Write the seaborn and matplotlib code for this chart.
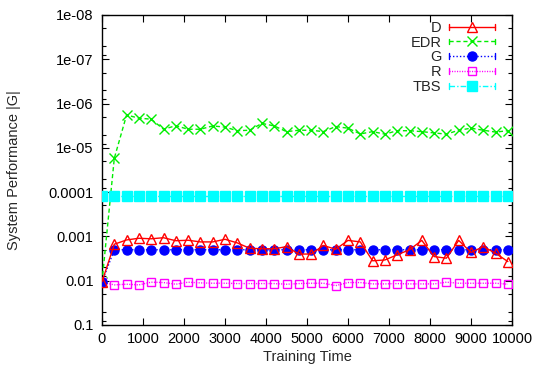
import matplotlib
matplotlib.use("Agg")
import matplotlib.pyplot as plt
import matplotlib.ticker as mticker
from matplotlib.lines import Line2D
from matplotlib.legend_handler import HandlerLine2D
import seaborn as sns
import pandas as pd

# ---------------- data ----------------
training_time = [0, 300, 600, 900, 1200, 1500, 1800, 2100, 2400, 2700,
                 3000, 3300, 3600, 3900, 4200, 4500, 4800, 5100, 5400, 5700,
                 6000, 6300, 6600, 6900, 7200, 7500, 7800, 8100, 8400, 8700,
                 9000, 9300, 9600, 9900]

d_values = [0.0106, 1.5e-3, 1.2e-3, 1.1e-3, 1.13e-3, 1.07e-3, 1.25e-3, 1.22e-3, 1.33e-3, 1.33e-3,
            1.16e-3, 1.4e-3, 1.85e-3, 1.9e-3, 1.9e-3, 1.7e-3, 2.5e-3, 2.5e-3, 1.6e-3, 1.95e-3,
            1.23e-3, 1.33e-3, 3.55e-3, 3.4e-3, 2.6e-3, 2.0e-3, 1.23e-3, 2.85e-3, 3.1e-3, 1.23e-3,
            2.3e-3, 1.7e-3, 2.4e-3, 3.7e-3]

edr_values = [0.0106, 1.72e-5, 1.81e-6, 2.14e-6, 2.25e-6, 3.8e-6, 3.16e-6, 3.8e-6, 3.8e-6, 3.2e-6,
              3.4e-6, 4.1e-6, 4.0e-6, 2.8e-6, 3.2e-6, 4.3e-6, 4.0e-6, 4.0e-6, 4.3e-6, 3.3e-6,
              3.6e-6, 4.85e-6, 4.3e-6, 4.9e-6, 4.1e-6, 4.1e-6, 4.3e-6, 4.6e-6, 4.9e-6, 4.0e-6,
              3.6e-6, 4.0e-6, 4.4e-6, 4.1e-6]

g_values = [0.0106, 2.0e-3, 2.0e-3, 2.0e-3, 2.0e-3, 2.0e-3, 2.0e-3, 2.0e-3, 2.0e-3, 2.0e-3,
            2.0e-3, 2.0e-3, 2.0e-3, 2.0e-3, 2.0e-3, 2.0e-3, 2.0e-3, 2.0e-3, 2.0e-3, 2.0e-3,
            2.0e-3, 2.0e-3, 2.0e-3, 2.0e-3, 2.0e-3, 2.0e-3, 2.0e-3, 2.0e-3, 2.0e-3, 2.0e-3,
            2.0e-3, 2.0e-3, 2.0e-3, 2.0e-3]

r_values = [0.0108, 0.0124, 0.0120, 0.0124, 0.0108, 0.0110, 0.0120, 0.0108, 0.0112, 0.0114,
            0.0114, 0.0116, 0.0116, 0.0116, 0.0116, 0.0120, 0.0116, 0.0114, 0.0114, 0.0129,
            0.0110, 0.0110, 0.0118, 0.0118, 0.0116, 0.0118, 0.0118, 0.0118, 0.0108, 0.0114,
            0.0114, 0.0114, 0.0114, 0.0120]

tbs_values = [1.25e-4] * 34

series_names = ["D", "EDR", "G", "R", "TBS"]
series_values = [d_values, edr_values, g_values, r_values, tbs_values]

x_ticks = [0, 1000, 2000, 3000, 4000, 5000, 6000, 7000, 8000, 9000, 10000]
y_ticks = [1e-8, 1e-7, 1e-6, 1e-5, 1e-4, 1e-3, 1e-2, 1e-1]
y_tick_labels = ["1e-08", "1e-07", "1e-06", "1e-05", "0.0001", "0.001", "0.01", "0.1"]

# ---------------- styles ----------------
styles = {
    "D":   dict(color="#ff0000", marker="^", fillstyle="none", markersize=6.5,
                linestyle="-", zorder=6),
    "EDR": dict(color="#00ee00", marker="x", markersize=6.5,
                linestyle=(0, (3, 2)), zorder=3),
    "G":   dict(color="#0000ff", marker="o", markersize=6.5,
                linestyle=(0, (1, 1.5)), zorder=5),
    "R":   dict(color="#ff00ff", marker="s", fillstyle="none", markersize=6,
                linestyle=(0, (0.8, 1)), zorder=4),
    "TBS": dict(color="#00ffff", marker="s", markersize=6.5,
                linestyle=(0, (4, 1.5, 1, 1.5)), zorder=4),
}

FS = 10.5

sns.set_style("ticks")
plt.rcParams["font.family"] = ["Liberation Sans", "DejaVu Sans"]
plt.rcParams["font.size"] = FS

fig = plt.figure(figsize=(5.34, 3.71), dpi=100)
ax = fig.add_axes([102 / 534, 46 / 371, 410 / 534, 310 / 371])

frames = []
for name, vals in zip(series_names, series_values):
    frames.append(pd.DataFrame({"Training Time": training_time, "value": vals, "series": name}))
df = pd.concat(frames, ignore_index=True)

for name in series_names:
    st = dict(styles[name])
    sub = df[df["series"] == name]
    sns.lineplot(data=sub, x="Training Time", y="value", ax=ax, label=name,
                 color=st["color"], marker=st["marker"], markersize=st["markersize"],
                 linestyle=st["linestyle"], linewidth=1.0,
                 markeredgecolor=st["color"], markeredgewidth=1.0,
                 fillstyle=st.get("fillstyle", "full"),
                 errorbar=None, sort=False, zorder=st["zorder"])

ax.set_yscale("log")
ax.set_ylim(0.1, 1e-8)
ax.set_xlim(0, 10000)
ax.set_xticks(x_ticks)
ax.set_yticks(y_ticks, labels=y_tick_labels)
ax.yaxis.set_minor_locator(mticker.LogLocator(base=10, subs=(2.0, 5.0, 8.0), numticks=20))
ax.yaxis.set_minor_formatter(mticker.NullFormatter())
ax.xaxis.set_minor_locator(mticker.NullLocator())

ax.tick_params(which="both", direction="in", top=True, right=True, colors="black",
               labelsize=FS)
ax.tick_params(axis="x", which="major", pad=5)
ax.tick_params(axis="y", which="major", pad=6)
ax.tick_params(which="major", length=5, width=0.8)
ax.tick_params(which="minor", length=3, width=0.8)
for sp in ax.spines.values():
    sp.set_color("black")
    sp.set_linewidth(1.0)
    sp.set_visible(True)

ax.set_xlabel("Training Time", fontsize=FS, labelpad=3)
ax.set_ylabel("System Performance |G|", fontsize=FS, labelpad=20)


class CapHandler(HandlerLine2D):
    def create_artists(self, legend, orig_handle, xdescent, ydescent, width, height,
                       fontsize, trans):
        artists = super().create_artists(legend, orig_handle, xdescent, ydescent,
                                         width, height, fontsize, trans)
        line = artists[0]
        xs = line.get_xdata()
        ys = line.get_ydata()
        y = ys[0]
        h = 0.28 * height
        caps = []
        for xx in (xs[0], xs[-1]):
            cap = Line2D([xx, xx], [y - h, y + h], color=orig_handle.get_color(),
                         linewidth=1.0)
            cap.set_transform(trans)
            caps.append(cap)
        return list(artists) + caps


handles, labels = ax.get_legend_handles_labels()
leg = ax.legend(handles, labels, loc="upper right", frameon=False, markerfirst=False,
                handlelength=3.1, handletextpad=0.55, labelspacing=0.05, fontsize=FS,
                borderaxespad=0.0, bbox_to_anchor=(0.972, 1.0),
                handler_map={h: CapHandler(numpoints=1) for h in handles})

fig.savefig("out.png", dpi=100)
